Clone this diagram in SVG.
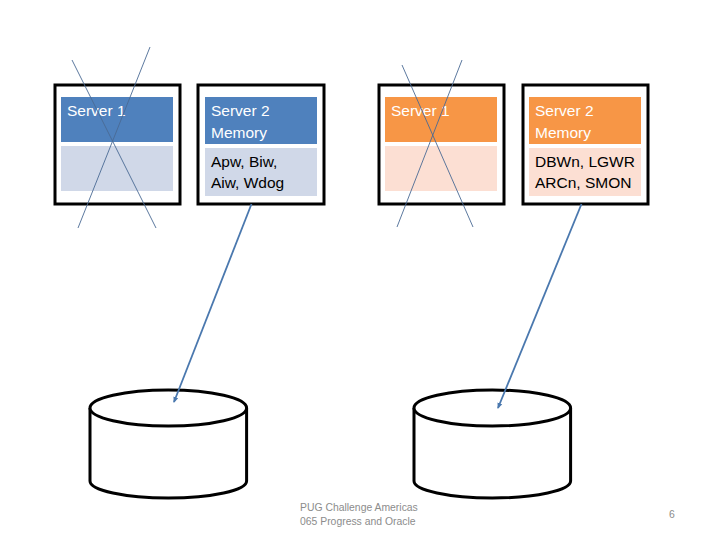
<svg xmlns="http://www.w3.org/2000/svg" width="720" height="540" viewBox="0 0 720 540">
<defs>
<style>
.frame{fill:#fff;stroke:#000;stroke-width:3}
.hb{fill:#4F81BD}
.lb{fill:#D0D8E8}
.ho{fill:#F79646}
.lo{fill:#FCDFD3}
.t{font-family:"Liberation Sans",Arial,sans-serif;font-size:15.5px}
.w{fill:#fff}
.k{fill:#000}
.x{stroke:#4A6A94;stroke-width:0.9;fill:none}
.conn{stroke:#4A78AE;stroke-width:1.8;fill:none;marker-end:url(#ah)}
.cyl{fill:#fff;stroke:#000;stroke-width:3}
.ft{font-family:"Liberation Sans",Arial,sans-serif;font-size:10.4px;fill:#8C8C8C}
</style>
<marker id="ah" markerWidth="6" markerHeight="6" refX="5" refY="3" orient="auto" markerUnits="userSpaceOnUse">
<path d="M0,0.5 L6,3 L0,5.5 z" fill="#4A78AE"/>
</marker>
</defs>
<rect width="720" height="540" fill="#fff"/>
<g id="box1">
<rect class="frame" x="55" y="85" width="125" height="119"/>
<rect class="hb" x="61" y="97" width="112" height="45"/>
<rect class="lb" x="61" y="146" width="112" height="45"/>
<text class="t w" x="67" y="116">Server 1</text>
</g>
<g id="box2">
<rect class="frame" x="198" y="85" width="126" height="119"/>
<rect class="hb" x="205" y="97" width="112" height="47"/>
<rect class="lb" x="205" y="148" width="112" height="48"/>
<text class="t w" x="211" y="116">Server 2</text>
<text class="t w" x="211" y="138">Memory</text>
<text class="t k" x="211" y="167">Apw, Biw,</text>
<text class="t k" x="211" y="188">Aiw, Wdog</text>
</g>
<g id="box3">
<rect class="frame" x="379" y="85" width="125" height="119"/>
<rect class="ho" x="385" y="97" width="112" height="45"/>
<rect class="lo" x="385" y="146" width="112" height="45"/>
<text class="t w" x="391" y="116">Server 1</text>
</g>
<g id="box4">
<rect class="frame" x="523" y="85" width="125" height="119"/>
<rect class="ho" x="529" y="97" width="112" height="47"/>
<rect class="lo" x="529" y="148" width="112" height="48"/>
<text class="t w" x="535" y="116">Server 2</text>
<text class="t w" x="535" y="138">Memory</text>
<text class="t k" x="535" y="167">DBWn, LGWR</text>
<text class="t k" x="535" y="188">ARCn, SMON</text>
</g>
<g id="crosses">
<line class="x" x1="72" y1="60" x2="156" y2="228"/>
<line class="x" x1="150" y1="47" x2="78" y2="228"/>
<line class="x" x1="402" y1="65" x2="473" y2="227"/>
<line class="x" x1="462" y1="60" x2="397" y2="227"/>
</g>
<g id="disk1">
<path class="cyl" d="M90,408 L90,481 A78.3,17 0 0 0 246.6,481 L246.6,408"/>
<ellipse class="cyl" cx="168.3" cy="408" rx="78.3" ry="18"/>
</g>
<g id="disk2">
<path class="cyl" d="M414,408 L414,481 A78.3,17 0 0 0 570.6,481 L570.6,408"/>
<ellipse class="cyl" cx="492.3" cy="408" rx="78.3" ry="18"/>
</g>
<g id="connectors">
<line class="conn" x1="251.5" y1="204" x2="174" y2="402"/>
<line class="conn" x1="581.5" y1="204" x2="498" y2="408"/>
</g>
<g id="footer">
<text class="ft" x="300" y="511">PUG Challenge Americas</text>
<text class="ft" x="300" y="525">065 Progress and Oracle</text>
<text class="ft" x="669" y="518">6</text>
</g>
</svg>
